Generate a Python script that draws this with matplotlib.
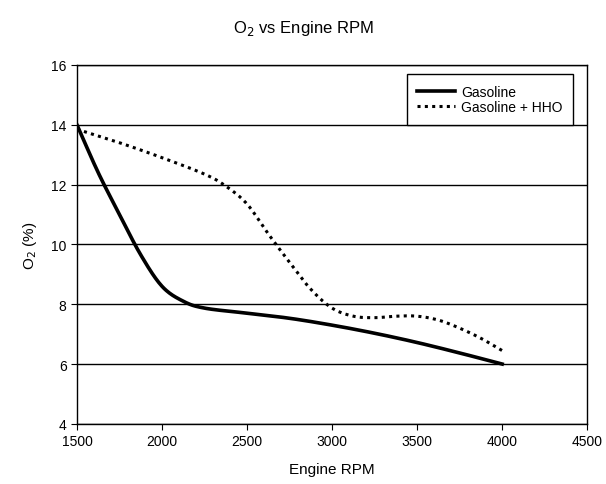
import numpy as np
import matplotlib.pyplot as plt

plt.rcParams['font.family'] = ['Liberation Sans', 'DejaVu Sans']

# values
rpm_gas = [1500, 1625, 1750, 1875, 2000, 2125, 2250, 2500, 2750, 3000, 3250, 3500, 3750, 4000]
o2_gas = [14.0, 12.4, 11.0, 9.65, 8.6, 8.1, 7.87, 7.7, 7.53, 7.3, 7.03, 6.72, 6.37, 6.0]

rpm_hho = [1500, 1750, 2000, 2250, 2375, 2500, 2625, 2750, 2875, 3000, 3125, 3250, 3375, 3500, 3625, 3750, 3875, 4000]
o2_hho = [13.85, 13.4, 12.9, 12.35, 11.95, 11.35, 10.35, 9.4, 8.5, 7.87, 7.6, 7.55, 7.6, 7.6, 7.47, 7.2, 6.86, 6.45]

x_ticks = [1500, 2000, 2500, 3000, 3500, 4000, 4500]
y_ticks = [4, 6, 8, 10, 12, 14, 16]


def smooth(x, y, n=20):
    # catmull-rom through the points, like excel's smoothed line
    x = np.asarray(x, float)
    y = np.asarray(y, float)
    px = np.concatenate([[2 * x[0] - x[1]], x, [2 * x[-1] - x[-2]]])
    py = np.concatenate([[2 * y[0] - y[1]], y, [2 * y[-1] - y[-2]]])
    xs, ys = [], []
    t = np.linspace(0, 1, n, endpoint=False)
    for i in range(1, len(px) - 2):
        for p, out in ((px, xs), (py, ys)):
            p0, p1, p2, p3 = p[i - 1], p[i], p[i + 1], p[i + 2]
            out.extend(0.5 * ((2 * p1) + (-p0 + p2) * t
                              + (2 * p0 - 5 * p1 + 4 * p2 - p3) * t ** 2
                              + (-p0 + 3 * p1 - 3 * p2 + p3) * t ** 3))
    xs.append(x[-1])
    ys.append(y[-1])
    return xs, ys


fig = plt.figure(figsize=(6.06, 4.85), dpi=100)
ax = fig.add_axes([0.127, 0.124, 0.842, 0.740])

gx, gy = smooth(rpm_gas, o2_gas)
hx, hy = smooth(rpm_hho, o2_hho)
ax.plot(gx, gy, color='black', lw=2.6, label='Gasoline')
ax.plot(hx, hy, color='black', lw=2.2, linestyle=(0, (1, 1.4)), label='Gasoline + HHO')

ax.set_xlim(1500, 4500)
ax.set_ylim(4, 16)
ax.set_xticks(x_ticks)
ax.set_yticks(y_ticks)
ax.yaxis.grid(True, color='black', lw=1)
ax.set_axisbelow(True)
ax.tick_params(direction='out', length=4, labelsize=10, color='black')
for s in ax.spines.values():
    s.set_linewidth(1)

ax.set_xlabel('Engine RPM', fontsize=11, labelpad=10)
ax.set_ylabel('O$_2$ (%)', fontsize=11, labelpad=9)
fig.suptitle('O$_2$ vs Engine RPM', fontsize=12, y=0.96)

leg = ax.legend(loc='upper right', bbox_to_anchor=(0.972, 0.974), fontsize=10,
                fancybox=False, framealpha=1, edgecolor='black',
                handlelength=2.7, handletextpad=0.45, borderpad=0.75, labelspacing=0.1,
                borderaxespad=0)
leg.get_frame().set_linewidth(1)

fig.savefig('out.png', dpi=100)
